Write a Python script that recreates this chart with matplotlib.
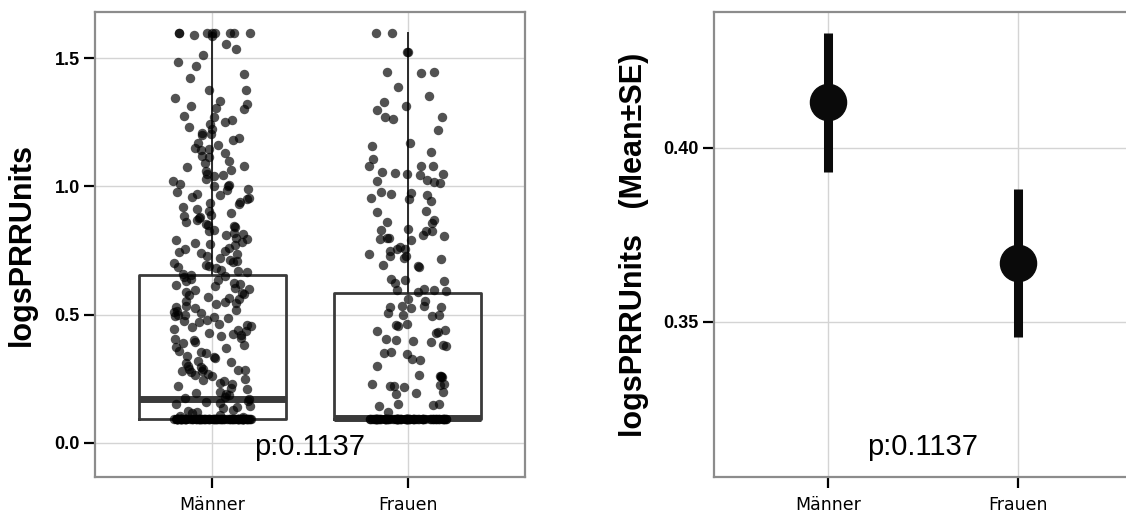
import numpy as np
import pandas as pd
import matplotlib
matplotlib.use("Agg")
import matplotlib.pyplot as plt
import seaborn as sns

# ---------------- data ----------------
groups = ["Männer", "Frauen"]

maenner_values = [
    1.60, 1.60, 1.60, 1.60, 1.60, 1.60, 1.60, 1.60, 1.59, 1.585,
    1.555, 1.535, 1.513,
    1.485, 1.47, 1.44, 1.421,
    1.376, 1.376, 1.346, 1.333, 1.32, 1.314, 1.305, 1.30,
    1.275, 1.27, 1.26, 1.25, 1.245, 1.23, 1.225, 1.21, 1.205, 1.20,
    1.19, 1.18, 1.17, 1.16, 1.15, 1.145, 1.14, 1.13, 1.12, 1.115, 1.10,
    1.09, 1.08, 1.075, 1.065, 1.06, 1.05, 1.045, 1.04, 1.03, 1.02, 1.01, 1.005, 1.0, 1.0,
    0.99, 0.985, 0.98, 0.97, 0.965, 0.96, 0.955, 0.95, 0.94, 0.935, 0.93, 0.92, 0.91, 0.905,
    0.895, 0.89, 0.885, 0.88, 0.875, 0.87, 0.86, 0.855, 0.85, 0.845, 0.84, 0.83, 0.825,
    0.82, 0.815, 0.81, 0.80,
    0.795, 0.79, 0.785, 0.78, 0.775, 0.77, 0.76, 0.755, 0.75, 0.745, 0.74, 0.735, 0.73,
    0.72, 0.715, 0.71, 0.705, 0.70,
    0.695, 0.69, 0.685, 0.68, 0.675, 0.67, 0.665, 0.66, 0.655, 0.65, 0.645, 0.64, 0.635,
    0.63, 0.625, 0.62, 0.615, 0.61, 0.605, 0.60,
    0.595, 0.59, 0.585, 0.58, 0.575, 0.57, 0.565, 0.56, 0.555, 0.55, 0.545, 0.54, 0.535,
    0.53, 0.525, 0.52, 0.515, 0.51, 0.505, 0.50, 0.50,
    0.495, 0.49, 0.485, 0.48, 0.475, 0.47, 0.465, 0.46, 0.455, 0.45, 0.445, 0.44, 0.435,
    0.43, 0.425, 0.42, 0.415, 0.41, 0.405, 0.40,
    0.395, 0.39, 0.38, 0.375, 0.37, 0.36, 0.355, 0.35, 0.34, 0.335, 0.33, 0.32, 0.315, 0.31, 0.30,
    0.295, 0.29, 0.29, 0.285, 0.285, 0.28, 0.28, 0.275, 0.27, 0.265, 0.26, 0.25, 0.245,
    0.24, 0.235, 0.23, 0.22, 0.215, 0.21, 0.20,
    0.195, 0.19, 0.185, 0.18, 0.175, 0.17, 0.165, 0.16, 0.155, 0.15, 0.145, 0.14, 0.135,
    0.13, 0.125, 0.12, 0.115, 0.11, 0.105, 0.10,
] + [0.094] * 90

frauen_values = [
    1.60, 1.60, 1.524, 1.524, 1.448, 1.448, 1.443, 1.386, 1.353, 1.331, 1.312, 1.299,
    1.269, 1.269, 1.264, 1.218, 1.171, 1.156, 1.136, 1.106, 1.078, 1.078, 1.078,
    1.055, 1.052, 1.05, 1.048, 1.045,
    1.025, 1.02, 1.018, 1.012,
    0.98, 0.975, 0.972, 0.968,
    0.955, 0.95, 0.945,
    0.905, 0.90,
    0.868, 0.863, 0.858,
    0.835, 0.83, 0.828, 0.825,
    0.81, 0.805, 0.80, 0.798, 0.795, 0.79,
    0.762, 0.757, 0.755, 0.75,
    0.735, 0.73, 0.727, 0.722, 0.718,
    0.695, 0.69, 0.685,
    0.64, 0.635, 0.63, 0.625,
    0.60, 0.597, 0.595, 0.592, 0.59,
    0.56, 0.555,
    0.535, 0.532, 0.53, 0.528, 0.525,
    0.505, 0.50, 0.498, 0.495,
    0.465, 0.46, 0.455,
    0.44, 0.436, 0.432, 0.428,
    0.405, 0.40, 0.398, 0.395,
    0.382, 0.378,
    0.355, 0.35, 0.345,
    0.326, 0.322,
    0.298,
    0.265, 0.262, 0.26, 0.258, 0.255,
    0.23, 0.228, 0.225, 0.222, 0.22, 0.218,
    0.198, 0.195, 0.192,
    0.152, 0.15, 0.146, 0.144,
    0.122,
] + [0.094] * 75

box_q1 = [0.094, 0.094]
box_median = [0.172, 0.097]
box_q3 = [0.655, 0.586]
whisker_low = [0.094, 0.094]
whisker_high = [1.60, 1.60]

group_means = [0.4132, 0.3669]
group_se = [0.0200, 0.0213]

p_label = "p:0.1137"
left_ylabel = "logsPRRUnits"
right_ylabel = "logsPRRUnits   (Mean±SE)"
left_yticks = [0.0, 0.5, 1.0, 1.5]
right_yticks = [0.35, 0.40]

# ---------------- figure ----------------
W, H = 1126, 518
fig = plt.figure(figsize=(W / 100, H / 100), dpi=100)
fig.patch.set_facecolor("white")

ax1 = fig.add_axes([95 / W, 1 - 477 / H, 430 / W, 465 / H])
ax2 = fig.add_axes([714 / W, 1 - 477 / H, 418 / W, 465 / H])

spine_col = "#8c8c8c"
grid_col = "#d4d4d4"
tick_fs = 13
xtick_fs = 12.5

def style(ax):
    ax.set_facecolor("white")
    ax.grid(True, color=grid_col, lw=1.0, zorder=0)
    ax.set_axisbelow(True)
    for s in ax.spines.values():
        s.set_color(spine_col)
        s.set_linewidth(1.6)
    ax.tick_params(axis="both", direction="out", length=8, width=1.6,
                   color="black", pad=3)
    ax.tick_params(axis="x", pad=6)

# ---- left: box + strip ----
stats = []
for i, g in enumerate(groups):
    stats.append(dict(label=g, q1=box_q1[i], med=box_median[i], q3=box_q3[i],
                      whislo=whisker_low[i], whishi=whisker_high[i], fliers=[]))
ax1.bxp(stats, positions=[0, 1], widths=0.75, showfliers=False, showcaps=False,
        boxprops=dict(color="#3a3a3a", lw=2.0),
        medianprops=dict(color="#3a3a3a", lw=5.0),
        whiskerprops=dict(color="#2a2a2a", lw=1.4),
        manage_ticks=False, zorder=2)

df = pd.DataFrame({
    "grp": [groups[0]] * len(maenner_values) + [groups[1]] * len(frauen_values),
    "val": maenner_values + frauen_values,
})
np.random.seed(7)
sns.stripplot(data=df, x="grp", y="val", order=groups, ax=ax1, jitter=0.2,
              color="black", alpha=0.68, size=6.8, linewidth=0, zorder=3)

style(ax1)
ax1.set_xlim(-0.6, 1.6)
ax1.set_ylim(-0.133, 1.68)
ax1.set_yticks(left_yticks)
ax1.set_yticklabels([f"{v:.1f}" for v in left_yticks], fontsize=tick_fs,
                    fontweight="bold", family="Liberation Sans")
ax1.set_xticks([0, 1])
ax1.set_xticklabels(groups, fontsize=xtick_fs, family="DejaVu Sans")
ax1.set_xlabel("")
ax1.set_ylabel(left_ylabel, fontsize=22, fontweight="bold", family="Liberation Sans")
ax1.yaxis.set_label_coords(-0.135, 0.5)
ax1.text(0.5, -0.016, p_label, ha="center", va="center", fontsize=21,
         family="Liberation Sans", zorder=5)

# ---- right: mean +- SE ----
ax2.errorbar([0, 1], group_means, yerr=group_se, fmt="o", color="#0a0a0a",
             ms=26, elinewidth=6.5, capsize=0, zorder=3)
style(ax2)
ax2.set_xlim(-0.6, 1.6)
ax2.set_ylim(0.3054, 0.4391)
ax2.set_yticks(right_yticks)
ax2.set_yticklabels([f"{v:.2f}" for v in right_yticks], fontsize=tick_fs,
                    fontweight="bold", family="Liberation Sans")
ax2.set_xticks([0, 1])
ax2.set_xticklabels(groups, fontsize=xtick_fs, family="DejaVu Sans")
ax2.set_ylabel(right_ylabel, fontsize=22, fontweight="bold", family="Liberation Sans")
ax2.yaxis.set_label_coords(-0.155, 0.5)
ax2.text(0.5, 0.314, p_label, ha="center", va="center", fontsize=21,
         family="Liberation Sans", zorder=5)

fig.savefig("out.png", dpi=100)
